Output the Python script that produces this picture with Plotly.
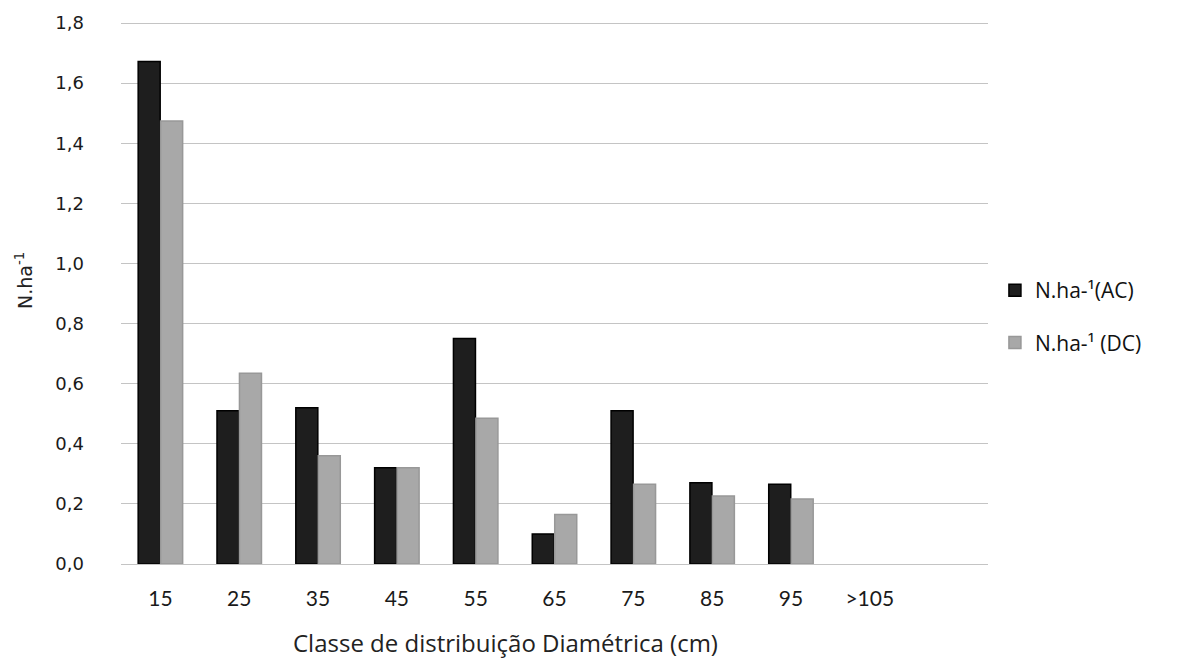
import plotly.graph_objects as go

categories = ["15", "25", "35", "45", "55", "65", "75", "85", "95", ">105"]
ac_values = [1.672, 0.51, 0.52, 0.32, 0.75, 0.10, 0.51, 0.27, 0.265, None]
dc_values = [1.474, 0.635, 0.36, 0.32, 0.485, 0.165, 0.265, 0.226, 0.216, None]
y_ticks = [0, 0.2, 0.4, 0.6, 0.8, 1.0, 1.2, 1.4, 1.6, 1.8]
x_title = "Classe de distribuição Diamétrica (cm)"
y_title = "N.ha<sup>-1</sup>"

fig = go.Figure()
fig.add_trace(go.Bar(
    x=categories, y=ac_values, name="N.ha-¹(AC)", legendgroup="a",
    marker=dict(color="#1e1e1e", line=dict(color="#000000", width=1.5)),
))
fig.add_trace(go.Bar(
    x=categories, y=dc_values, name="N.ha-¹ (DC)", legendgroup="b",
    marker=dict(color="#a8a8a8", line=dict(color="#989898", width=1.5)),
))

fig.update_layout(
    width=1181, height=662,
    margin=dict(l=113, r=201, t=12, b=106),
    paper_bgcolor="white", plot_bgcolor="white",
    separators=", ",
    barmode="group", bargap=0.43, bargroupgap=0.02,
    font=dict(family="Open Sans", size=16, color="#222222"),
    legend=dict(x=1.008, xanchor="left", y=0.455, yanchor="middle",
                font=dict(family="Open Sans", size=21, color="#111111"), tracegroupgap=22,
                itemwidth=30),
    showlegend=True,
    annotations=[
        dict(text=x_title, xref="paper", yref="paper", x=0.444, y=-0.11,
             xanchor="center", yanchor="top", showarrow=False,
             font=dict(family="Open Sans", size=24, color="#222222")),
        dict(text=y_title, xref="paper", yref="paper", x=-0.112, y=0.522,
             xanchor="center", yanchor="middle", showarrow=False, textangle=-90,
             font=dict(family="DejaVu Sans", size=19, color="#222222")),
    ],
)
fig.update_xaxes(
    type="category", range=[-0.5, 10.5], automargin=False,
    showgrid=False, showline=False, ticks="",
    ticklabelstandoff=20,
    tickfont=dict(family="Lato", size=21, color="#1a1a1a"),
)
fig.update_yaxes(
    range=[0, 1.81], tickvals=y_ticks, tickformat=".1f", automargin=False,
    showgrid=True, gridcolor="#c4c4c4", gridwidth=1.3,
    zeroline=True, zerolinecolor="#c4c4c4", zerolinewidth=1.3,
    showline=False, ticks="",
    ticklabelstandoff=36,
    tickfont=dict(family="DejaVu Sans", size=18, color="#1a1a1a"),
)

fig.write_html("out.html")
